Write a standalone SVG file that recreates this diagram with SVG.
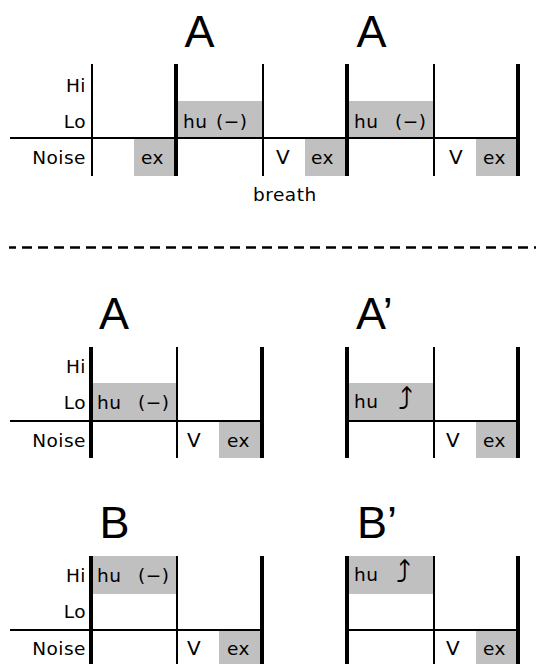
<svg xmlns="http://www.w3.org/2000/svg" width="542" height="664" viewBox="0 0 542 664">
<style>
.bg{fill:#ffffff}
.box{fill:#c0c0c0;stroke:none}
.thin{stroke:#000;stroke-width:2;fill:none}
.thick{stroke:#000;stroke-width:4;fill:none}
.hl{stroke:#000;stroke-width:2;fill:none}
.dash{stroke:#000;stroke-width:2.5;stroke-dasharray:10 6;stroke-dashoffset:3;fill:none}
.lbl{font-family:"DejaVu Sans","Liberation Sans",sans-serif;font-size:18.5px;letter-spacing:0.5px;fill:#000}
.v{font-size:20px}
.lr{text-anchor:end}
.title{font-family:"Liberation Sans","DejaVu Sans",sans-serif;font-size:45px;fill:#000}
.arr{font-family:"DejaVu Sans",sans-serif;font-size:30px;fill:#000}
</style>
<rect class="bg" x="0" y="0" width="542" height="664"/>

<g id="top">
  <text class="title" x="199.5" y="47" text-anchor="middle">A</text>
  <text class="title" x="371.5" y="47" text-anchor="middle">A</text>
  <rect class="box" x="176" y="101" width="87" height="37"/>
  <rect class="box" x="347" y="101" width="87" height="37"/>
  <rect class="box" x="134" y="138" width="42" height="38"/>
  <rect class="box" x="305" y="138" width="42" height="38"/>
  <rect class="box" x="476" y="138" width="42" height="38"/>
  <line class="hl" x1="10" y1="138" x2="518" y2="138"/>
  <line class="thin" x1="92" y1="64" x2="92" y2="176"/>
  <line class="thick" x1="176" y1="64" x2="176" y2="176"/>
  <line class="thin" x1="263" y1="64" x2="263" y2="176"/>
  <line class="thick" x1="347" y1="64" x2="347" y2="176"/>
  <line class="thin" x1="434" y1="64" x2="434" y2="176"/>
  <line class="thick" x1="518" y1="64" x2="518" y2="176"/>
  <text class="lbl lr" x="86" y="92">Hi</text>
  <text class="lbl lr" x="86" y="128">Lo</text>
  <text class="lbl lr" x="86" y="164">Noise</text>
  <text class="lbl" y="128"><tspan x="183">hu</tspan><tspan x="216">(−)</tspan></text>
  <text class="lbl" y="128"><tspan x="354">hu</tspan><tspan x="395">(−)</tspan></text>
  <text class="lbl" x="141" y="164">ex</text>
  <text class="lbl v" x="276" y="164">V</text>
  <text class="lbl" x="311" y="164">ex</text>
  <text class="lbl v" x="449" y="164">V</text>
  <text class="lbl" x="483" y="164">ex</text>
  <text class="lbl" x="253" y="201">breath</text>
</g>

<g id="separator">
  <line class="dash" x1="9" y1="247.5" x2="536" y2="247.5"/>
</g>

<g id="panelA">
  <text class="title" x="114" y="329" text-anchor="middle">A</text>
  <rect class="box" x="91" y="383" width="86" height="38"/>
  <rect class="box" x="219" y="421" width="43" height="37"/>
  <line class="hl" x1="10" y1="421" x2="262" y2="421"/>
  <line class="thick" x1="91" y1="347" x2="91" y2="458"/>
  <line class="thin" x1="177" y1="347" x2="177" y2="458"/>
  <line class="thick" x1="262" y1="347" x2="262" y2="458"/>
  <text class="lbl lr" x="86" y="373">Hi</text>
  <text class="lbl lr" x="86" y="409">Lo</text>
  <text class="lbl lr" x="86" y="447">Noise</text>
  <text class="lbl" y="409"><tspan x="97">hu</tspan><tspan x="138">(−)</tspan></text>
  <text class="lbl v" x="187" y="447">V</text>
  <text class="lbl" x="227" y="447">ex</text>
</g>

<g id="panelA2">
  <text class="title" x="356" y="329">A’</text>
  <rect class="box" x="347" y="383" width="87" height="38"/>
  <rect class="box" x="476" y="421" width="42" height="37"/>
  <line class="hl" x1="347" y1="421" x2="518" y2="421"/>
  <line class="thick" x1="347" y1="347" x2="347" y2="458"/>
  <line class="thin" x1="434" y1="347" x2="434" y2="458"/>
  <line class="thick" x1="518" y1="347" x2="518" y2="458"/>
  <text class="lbl" x="354" y="408">hu</text>
  <text class="arr" x="398" y="410">⤴</text>
  <text class="lbl v" x="446" y="447">V</text>
  <text class="lbl" x="483" y="447">ex</text>
</g>

<g id="panelB">
  <text class="title" x="114.5" y="538" text-anchor="middle">B</text>
  <rect class="box" x="91" y="556" width="86" height="38"/>
  <rect class="box" x="219" y="630" width="43" height="34"/>
  <line class="hl" x1="10" y1="630" x2="262" y2="630"/>
  <line class="thick" x1="91" y1="556" x2="91" y2="664"/>
  <line class="thin" x1="177" y1="556" x2="177" y2="664"/>
  <line class="thick" x1="262" y1="556" x2="262" y2="664"/>
  <text class="lbl lr" x="86" y="582">Hi</text>
  <text class="lbl lr" x="86" y="618">Lo</text>
  <text class="lbl lr" x="86" y="655">Noise</text>
  <text class="lbl" y="582"><tspan x="97">hu</tspan><tspan x="138">(−)</tspan></text>
  <text class="lbl v" x="187" y="655">V</text>
  <text class="lbl" x="227" y="655">ex</text>
</g>

<g id="panelB2">
  <text class="title" x="357" y="538">B’</text>
  <rect class="box" x="347" y="556" width="87" height="38"/>
  <rect class="box" x="476" y="630" width="42" height="34"/>
  <line class="hl" x1="347" y1="630" x2="518" y2="630"/>
  <line class="thick" x1="347" y1="556" x2="347" y2="664"/>
  <line class="thin" x1="434" y1="556" x2="434" y2="664"/>
  <line class="thick" x1="518" y1="556" x2="518" y2="664"/>
  <text class="lbl" x="354" y="581">hu</text>
  <text class="arr" x="396" y="583">⤴</text>
  <text class="lbl v" x="446" y="655">V</text>
  <text class="lbl" x="483" y="655">ex</text>
</g>

<g id="connectors"></g>
</svg>
